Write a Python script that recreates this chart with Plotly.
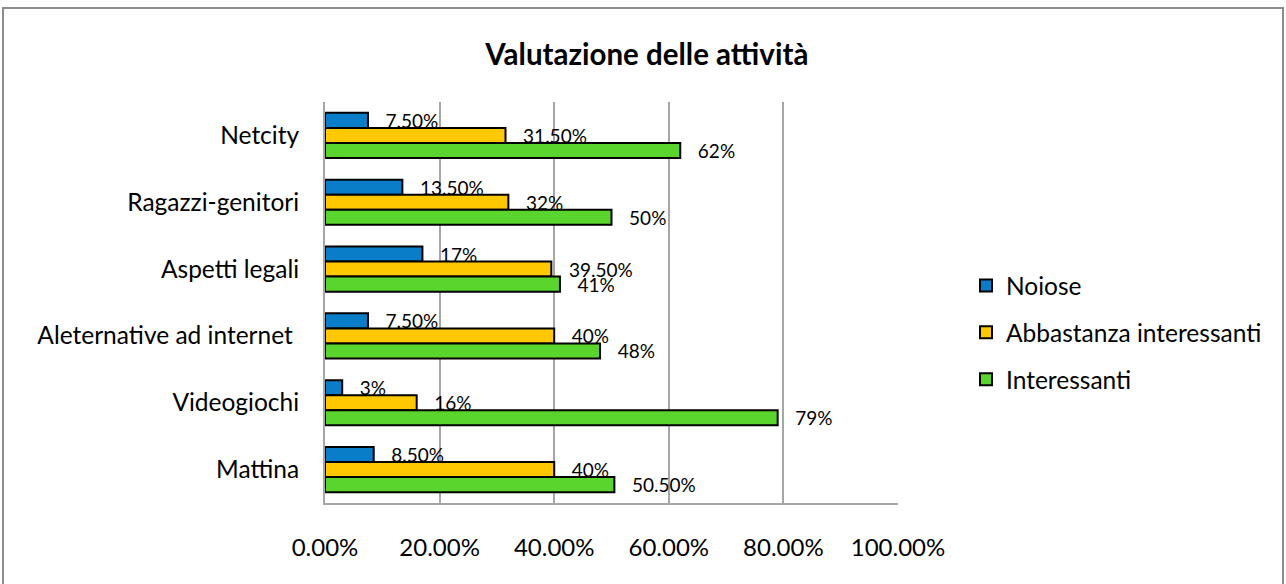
import plotly.graph_objects as go

categories = ["Netcity", "Ragazzi-genitori", "Aspetti legali",
              "Aleternative ad internet\u00a0", "Videogiochi", "Mattina"]
series_names = ["Noiose", "Abbastanza interessanti", "Interessanti"]
noiose = [0.075, 0.135, 0.17, 0.075, 0.03, 0.085]
abbastanza = [0.315, 0.32, 0.395, 0.40, 0.16, 0.40]
interessanti = [0.62, 0.50, 0.41, 0.48, 0.79, 0.505]
noiose_labels = ["7.50%", "13.50%", "17%", "7.50%", "3%", "8.50%"]
abbastanza_labels = ["31.50%", "32%", "39.50%", "40%", "16%", "40%"]
interessanti_labels = ["62%", "50%", "41%", "48%", "79%", "50.50%"]
colors = ["#0A7DC8", "#FFC800", "#5AD52D"]
tick_vals = [0, 0.2, 0.4, 0.6, 0.8, 1.0]
tick_text = ["0.00%", "20.00%", "40.00%", "60.00%", "80.00%", "100.00%"]

FONT = "Lato, 'Open Sans', sans-serif"

fig = go.Figure()
for i, (name, vals, labs) in enumerate(zip(series_names,
                                          [noiose, abbastanza, interessanti],
                                          [noiose_labels, abbastanza_labels, interessanti_labels])):
    fig.add_trace(go.Bar(
        y=categories, x=vals, name=name, orientation="h",
        marker=dict(color=colors[i], line=dict(color="black", width=2)),
        text=labs, texttemplate="\u00a0\u00a0\u00a0%{text}",
        textposition="outside", constraintext="none", cliponaxis=False,
        textfont=dict(family=FONT, size=19, color="black"),
        legendgroup=name,
    ))

L, R, T, B = 325, 388, 102, 81
W, H = 1286, 584
pw, ph = W - L - R, H - T - B

fig.update_layout(
    width=W, height=H,
    margin=dict(l=L, r=R, t=T, b=B),
    paper_bgcolor="white", plot_bgcolor="white",
    barmode="group", bargap=0.325, bargroupgap=0,
    font=dict(family=FONT, size=24, color="black"),
    title=dict(text="<b>Valutazione delle attività</b>",
               x=0.503, xanchor="center", y=1 - 55 / H, yanchor="middle",
               yref="container", font=dict(family=FONT, size=29.5, color="black")),
    legend=dict(x=(966 - L) / pw, xanchor="left", y=(H - B - 285 + 22) / ph, yanchor="top",
                font=dict(family=FONT, size=24.5), tracegroupgap=12,
                bgcolor="rgba(0,0,0,0)"),
    showlegend=True,
    xaxis=dict(range=[0, 1], tickvals=tick_vals, ticktext=tick_text,
               showgrid=True, gridcolor="#A6A6A6", gridwidth=2,
               zeroline=False, showline=True, linecolor="#A6A6A6", linewidth=2,
               ticks="", ticklabelstandoff=22, tickfont=dict(family=FONT, size=24)),
    yaxis=dict(autorange="reversed", showgrid=False, zeroline=False,
               showline=True, linecolor="#A6A6A6", linewidth=2,
               ticks="", ticklabelstandoff=19, tickfont=dict(family=FONT, size=24.5)),
    shapes=[dict(type="rect", xref="paper", yref="paper",
                 x0=(3 - L) / pw, x1=(1283 - L) / pw,
                 y0=(H - B - 600) / ph, y1=(H - B - 8) / ph,
                 line=dict(color="#8C8C8C", width=2), fillcolor="rgba(0,0,0,0)",
                 layer="below")],
)

fig.write_html("out.html", config={"displayModeBar": False},
               post_script="document.body.style.margin='0';")
